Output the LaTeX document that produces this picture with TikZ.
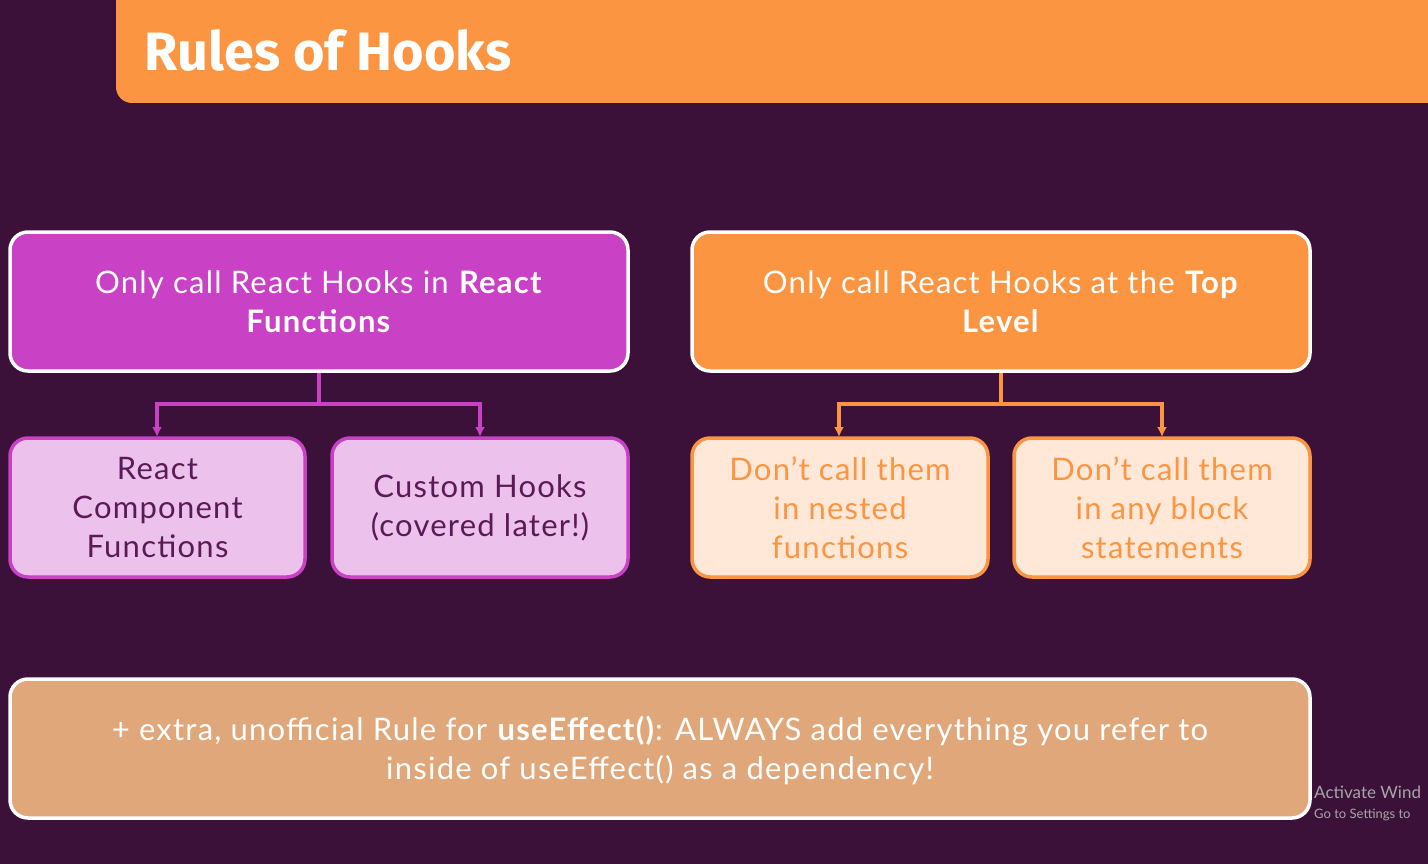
\documentclass[tikz,border=0pt]{standalone}
\usepackage{fontspec}
\setmainfont{Lato}[LetterSpace=4]
\newfontfamily\titlefont{Fira Sans}
\newfontfamily\winfont{Lato}
\begin{document}
\begin{tikzpicture}[x=1pt,y=-1pt,
  box/.style={rounded corners=18pt,line width=3.5pt,align=center,inner sep=0pt},
  lbl/.style={font=\fontsize{31}{39}\selectfont,align=center},
  conn/.style={line width=3.5pt,-{Latex[length=10pt,width=10pt]}}]
\usetikzlibrary{arrows.meta}
\definecolor{bg}{HTML}{3B1139}
\definecolor{org}{HTML}{FB9541}
\definecolor{mag}{HTML}{C941C4}
\definecolor{pinkl}{HTML}{ECC2EC}
\definecolor{orgl}{HTML}{FFE8D7}
\definecolor{tan}{HTML}{E0A77A}
\definecolor{dpur}{HTML}{5A1A55}
\fill[bg] (0,0) rectangle (1428,864);
\useasboundingbox (0,0) rectangle (1428,864);
\fill[org,rounded corners=16pt] (116,-30) rectangle (1460,103);
\node[anchor=west,text=white,font=\titlefont\bfseries\fontsize{54}{60}\selectfont] (title) at (141,50) {Rules of Hooks};
% top boxes
\draw[box,fill=mag,draw=white] (10,232) rectangle (628,371);
\node[lbl,text=white] (a) at (319,302) {Only call React Hooks in \textbf{React}\\\textbf{Functions}};
\draw[box,fill=org,draw=white] (692,232) rectangle (1310,371);
\node[lbl,text=white] (b) at (1001,302) {Only call React Hooks at the \textbf{Top}\\\textbf{Level}};
% children
\draw[box,fill=pinkl,draw=mag] (10,438) rectangle (305,577);
\node[lbl,text=dpur] (a1) at (157.5,508) {React\\Component\\Functions};
\draw[box,fill=pinkl,draw=mag] (332,438) rectangle (628,577);
\node[lbl,text=dpur] (a2) at (480,508) {Custom Hooks\\(covered later!)};
\draw[box,fill=orgl,draw=org] (692,438) rectangle (988,577);
\node[lbl,text=org] (b1) at (840,508) {Don’t call them\\in nested\\functions};
\draw[box,fill=orgl,draw=org] (1014,438) rectangle (1310,577);
\node[lbl,text=org] (b2) at (1162,508) {Don’t call them\\in any block\\statements};
% connectors
\coordinate (ja) at (319,404);
\coordinate (jb) at (1001,404);
\draw[mag,line width=3.5pt] (319,373) -- (ja);
\draw[conn,mag] (ja) -| (157,437);
\draw[conn,mag] (ja) -| (480,437);
\draw[org,line width=3.5pt] (1001,373) -- (jb);
\draw[conn,org] (jb) -| (839,437);
\draw[conn,org] (jb) -| (1162,437);
% bottom
\draw[box,fill=tan,draw=white] (10,679) rectangle (1310,818);
\node[lbl,text=white] (c) at (660,750) {+ extra, unofficial Rule for \textbf{useEffect()}: ALWAYS add everything you refer to\\inside of useEffect() as a dependency!};
\node[anchor=west,text=gray!70,font=\winfont\fontsize{17}{20}\selectfont,inner sep=0pt] (w1) at (1314,792) {Activate Wind};
\node[anchor=west,text=gray!70,font=\winfont\fontsize{13}{16}\selectfont,inner sep=0pt] (w2) at (1314,815) {Go to Settings to};
\end{tikzpicture}
\end{document}
